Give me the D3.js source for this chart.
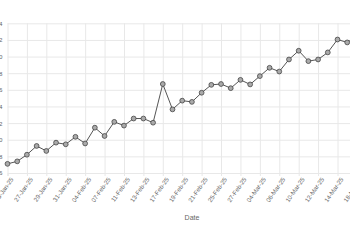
<!DOCTYPE html>
<html>
<head>
<meta charset="utf-8">
<script src="https://cdn.jsdelivr.net/npm/d3@7"></script>
<style>
  html, body { margin: 0; padding: 0; background: #fff; overflow: hidden; }
  svg { display: block; }
</style>
</head>
<body>
<svg id="chart" width="350" height="250"></svg>
<script>
const dates = ["23-Jan-25","24-Jan-25","27-Jan-25","28-Jan-25","29-Jan-25","30-Jan-25","31-Jan-25",
  "03-Feb-25","04-Feb-25","06-Feb-25","07-Feb-25","10-Feb-25","11-Feb-25","12-Feb-25","13-Feb-25",
  "14-Feb-25","17-Feb-25","18-Feb-25","19-Feb-25","20-Feb-25","21-Feb-25","24-Feb-25","25-Feb-25",
  "26-Feb-25","27-Feb-25","28-Feb-25","04-Mar-25","05-Mar-25","06-Mar-25","07-Mar-25","10-Mar-25",
  "11-Mar-25","12-Mar-25","13-Mar-25","14-Mar-25","17-Mar-25","18-Mar-25"];
const values = [17.1, 17.4, 18.2, 19.25, 18.65, 19.65, 19.45, 20.35, 19.55, 21.45, 20.45, 22.15,
  21.7, 22.55, 22.55, 22.05, 26.7, 23.65, 24.7, 24.55, 25.65, 26.6, 26.7, 26.2, 27.2, 26.65,
  27.65, 28.65, 28.2, 29.65, 30.7, 29.45, 29.65, 30.5, 32.05, 31.7, 32.45];
const yTicks = [16, 18, 20, 22, 24, 26, 28, 30, 32, 34];
const xTickLabels = dates.filter((d, i) => i % 2 === 0);
const xTitle = "Date";

const svg = d3.select("#chart");
const margin = { left: 7.5, top: 23.3 };
const innerW = 369, innerH = 149.7;
const step = 9.706;
const font = "Liberation Sans, Arial, sans-serif";

const g = svg.append("g").attr("transform", `translate(${margin.left},${margin.top})`);

const x = d3.scalePoint().domain(dates).range([0, step * (dates.length - 1)]);
const y = d3.scaleLinear().domain([16, 34]).range([innerH, 0]);

// horizontal grid
g.append("g")
  .call(d3.axisLeft(y).tickValues(yTicks).tickSize(-innerW).tickFormat(""))
  .call(s => s.select(".domain").remove())
  .call(s => s.selectAll("line").attr("stroke", "#e8e8e8").attr("stroke-width", 1));

// vertical grid
g.append("g")
  .call(d3.axisBottom(x).tickValues(xTickLabels).tickSize(innerH).tickFormat(""))
  .call(s => s.select(".domain").remove())
  .call(s => s.selectAll("line").attr("stroke", "#e8e8e8").attr("stroke-width", 1));

// y axis labels
const yAx = g.append("g")
  .call(d3.axisLeft(y).tickValues(yTicks).tickSize(0).tickPadding(5))
  .call(s => s.select(".domain").remove());
yAx.selectAll("text").attr("font-family", font)
  .attr("font-size", 6.2).attr("fill", "#666");

// x axis
const xAx = g.append("g").attr("transform", `translate(0,${innerH})`)
  .call(d3.axisBottom(x).tickValues(xTickLabels).tickSize(3).tickPadding(2))
  .call(s => s.select(".domain").attr("stroke", "#e8e8e8"))
  .call(s => s.selectAll(".tick line").attr("stroke", "#e8e8e8"));
xAx.selectAll("text")
  .attr("font-family", font)
  .attr("font-size", 6.2).attr("fill", "#666")
  .attr("text-anchor", "end")
  .attr("dx", "-0.3em").attr("dy", "0.55em")
  .attr("transform", "rotate(-55)");

g.append("text")
  .attr("x", innerW / 2).attr("y", innerH + 47)
  .attr("text-anchor", "middle")
  .attr("font-family", font)
  .attr("font-size", 7).attr("fill", "#666")
  .text(xTitle);

// line
const line = d3.line().x((d, i) => x(dates[i])).y(d => y(d));
g.append("path").datum(values)
  .attr("fill", "none").attr("stroke", "#555").attr("stroke-width", 1)
  .attr("d", line);

g.selectAll("circle").data(values).join("circle")
  .attr("cx", (d, i) => x(dates[i])).attr("cy", d => y(d))
  .attr("r", 2.4).attr("fill", "#aaa").attr("stroke", "#444").attr("stroke-width", 0.8);
</script>
</body>
</html>
